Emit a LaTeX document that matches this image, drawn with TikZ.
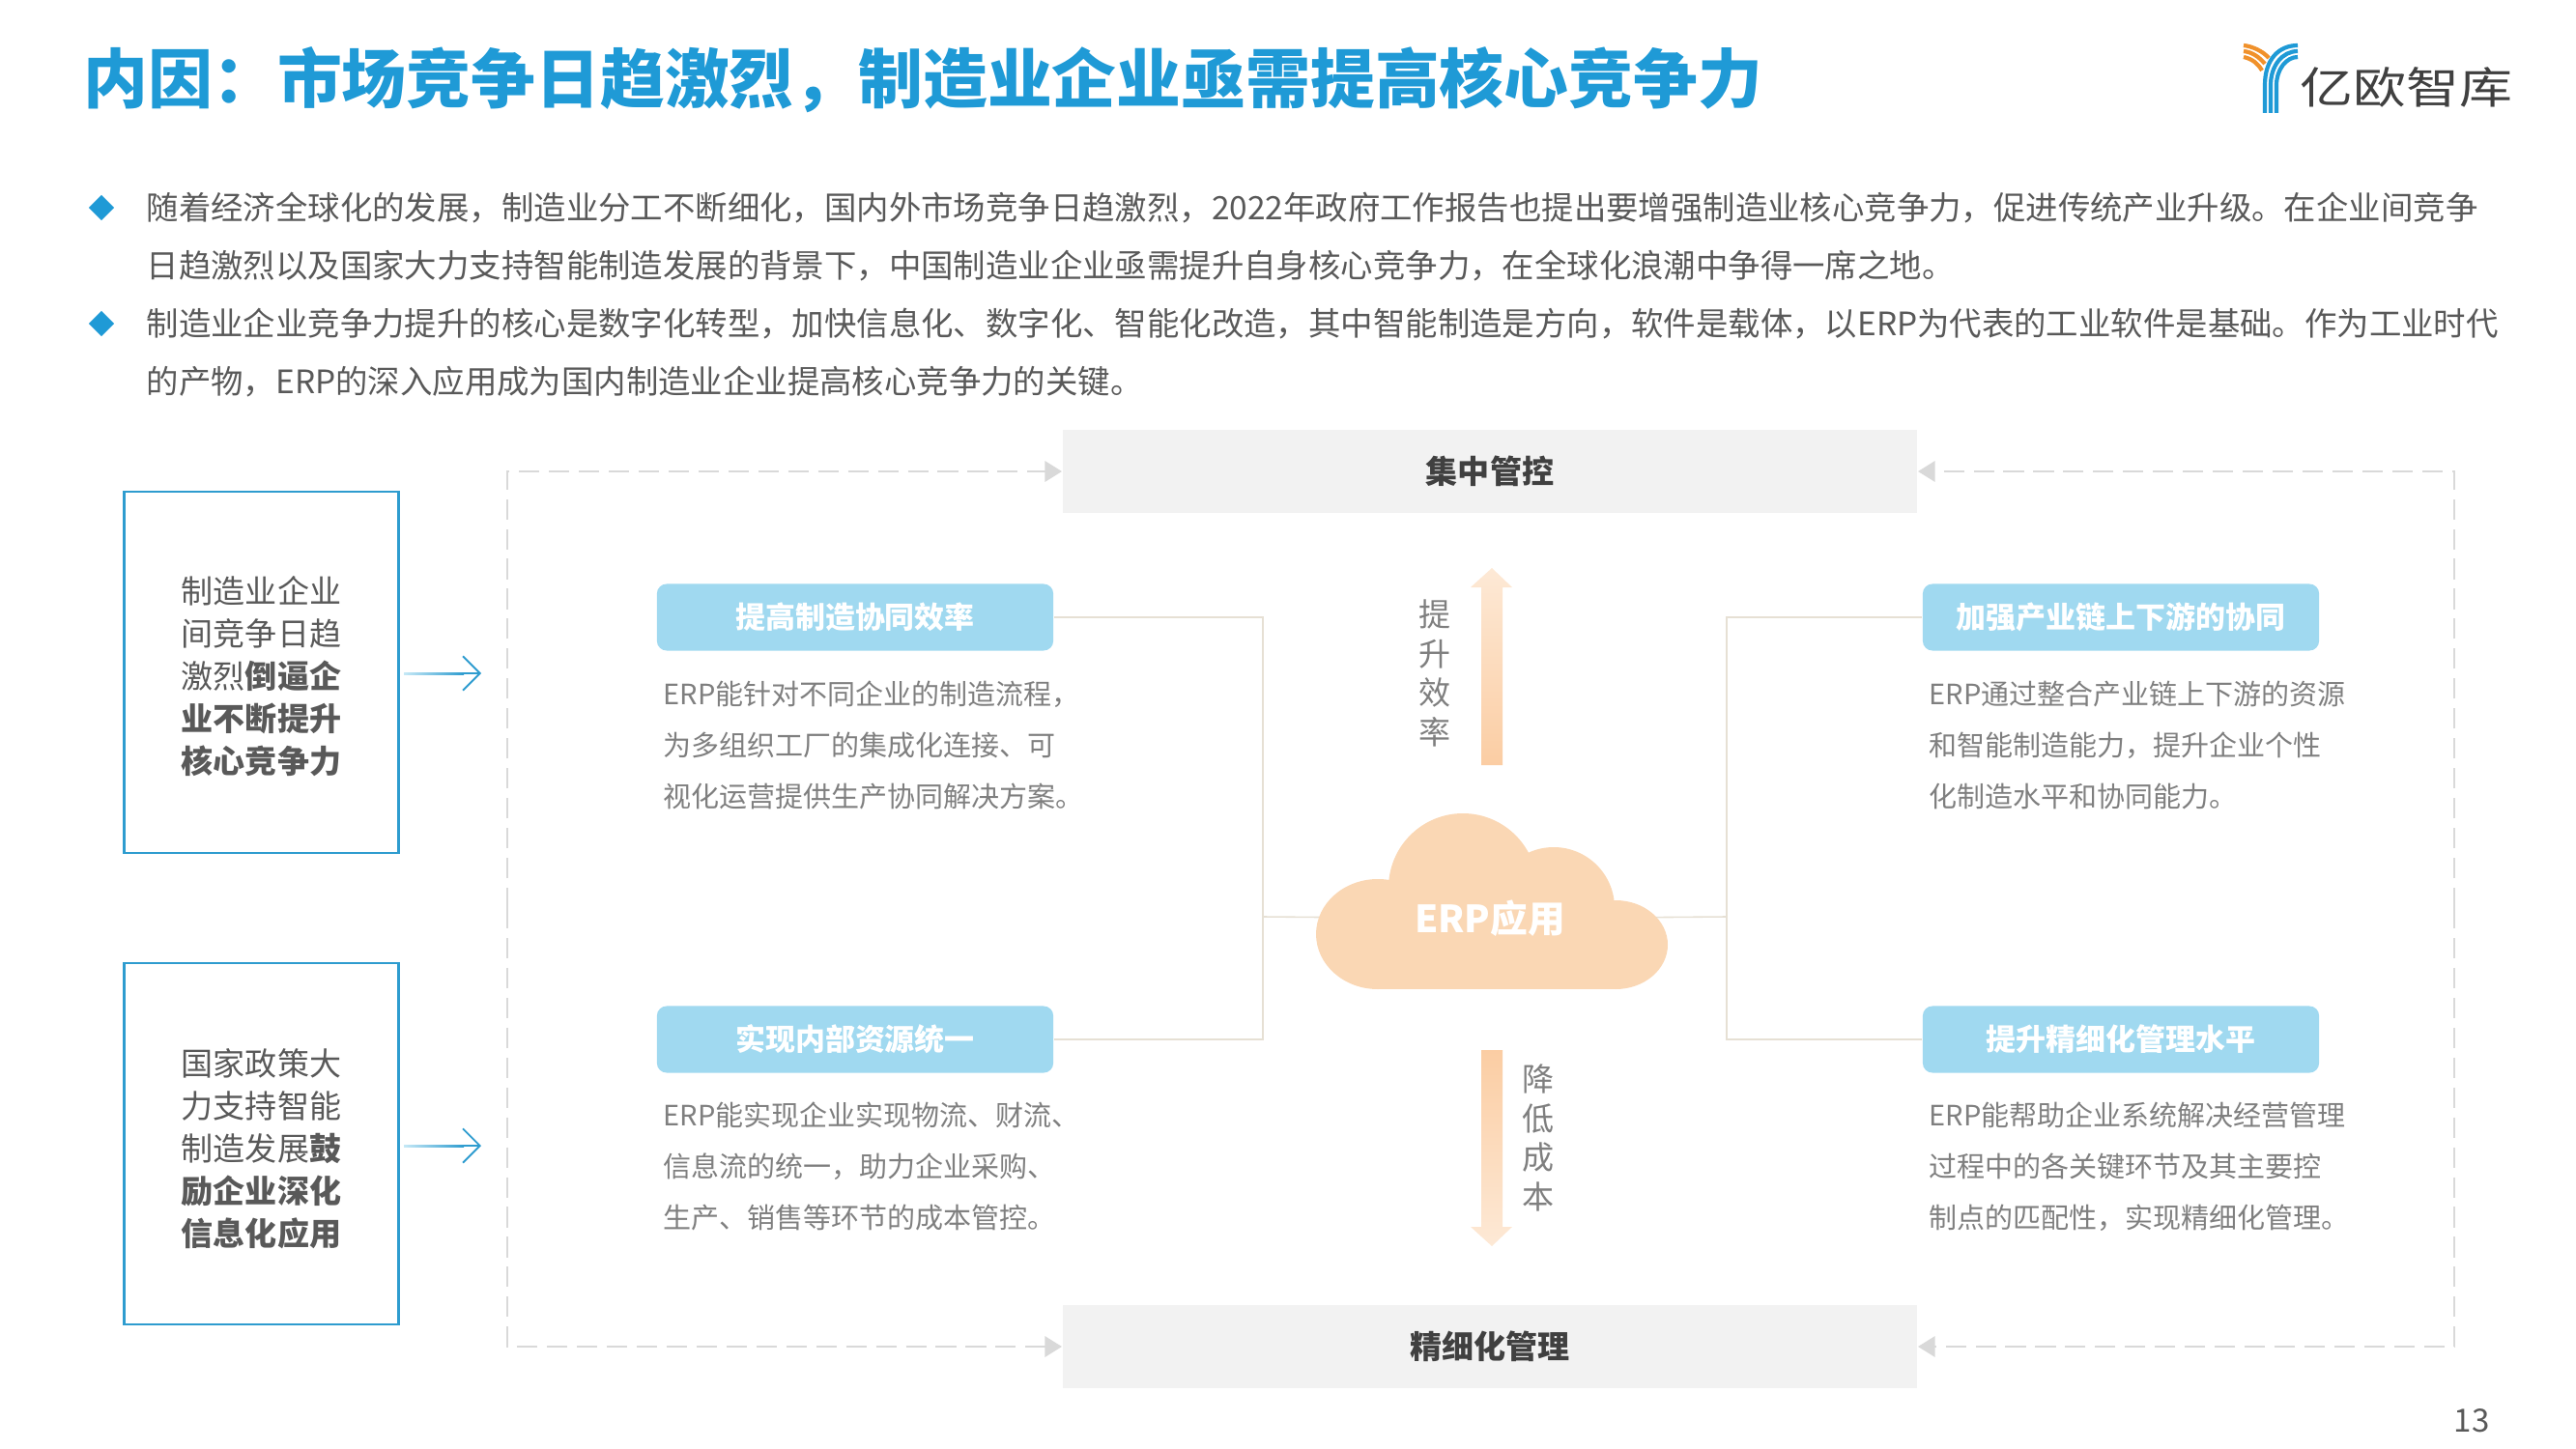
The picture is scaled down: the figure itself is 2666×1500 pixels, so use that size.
\documentclass[tikz,border=0pt]{standalone}
\usepackage{fontspec}
\setmainfont{Noto Sans CJK SC}
\usetikzlibrary{arrows.meta,positioning,shapes.geometric}

\definecolor{ebblue}{HTML}{1F9AD6}
\definecolor{ebline}{HTML}{2E9CCF}
\definecolor{ebsky}{HTML}{A0D9F0}
\definecolor{ebgrey}{HTML}{F2F2F2}
\definecolor{ebdash}{HTML}{D9D9D9}
\definecolor{ebtext}{HTML}{595959}
\definecolor{ebsoft}{HTML}{7F7F7F}
\definecolor{ebdark}{HTML}{404040}
\definecolor{ebpeach}{HTML}{FAD7B4}
\definecolor{ebpale}{HTML}{FDE9D6}
\definecolor{ebdeep}{HTML}{FBCDA3}
\definecolor{ebthin}{HTML}{E6E0D4}
\definecolor{eborange}{HTML}{F0912B}

\tikzset{
  para/.style={anchor=west,align=left,inner sep=0pt,text=ebtext,
    font=\fontsize{9.5}{17.07}\selectfont},
  bullet/.style={fill=ebblue,minimum size=0.27cm,inner sep=0pt,
    shape=diamond},
  causebox/.style={draw=ebline,line width=0.7pt,minimum width=2.84cm,minimum height=3.74cm,
    inner sep=0pt},
  causetext/.style={inner sep=0pt,align=center,text=ebtext,font=\fontsize{9.4}{12.5}\selectfont},
  greybar/.style={fill=ebgrey,minimum width=8.84cm,minimum height=0.86cm,inner sep=0pt,
    text=ebdark,font=\bfseries\fontsize{9.4}{12}\selectfont},
  skybox/.style={fill=ebsky,rounded corners=0.1cm,minimum width=4.1cm,minimum height=0.69cm,
    inner sep=0pt,text=white,font=\bfseries\fontsize{8.8}{12}\selectfont},
  desc/.style={anchor=north west,align=left,inner sep=0pt,text=ebsoft,
    font=\fontsize{8.25}{15.06}\selectfont},
  vtext/.style={align=center,inner sep=0pt,text=ebsoft,
    font=\fontsize{9.4}{11.5}\selectfont},
  dashline/.style={draw=ebdash,line width=0.8pt,dash pattern=on 6pt off 2.8pt,
    -{Triangle[length=5pt,width=6pt,fill=ebdash]}},
  thinline/.style={draw=ebthin,line width=0.45pt},
  pointer/.style={draw=ebline,line width=0.55pt,-{Straight Barb[length=5pt,width=10pt]}},
  logoline/.style={line width=1.2pt},
}

\begin{document}
\begin{tikzpicture}[x=0.01cm,y=-0.01cm,node distance=0.46cm]
  \useasboundingbox (0,0) rectangle (2666,1500);

  % heading
  \node[anchor=west,inner sep=0pt,text=ebblue,font=\bfseries\fontsize{19}{21}\selectfont]
    (heading) at (86,83) {内因：市场竞争日趋激烈，制造业企业亟需提高核心竞争力};

  % logo
  \draw[logoline,ebblue] (2344,117) -- (2344,88) .. controls (2344,62) and (2358,47) .. (2378,47);
  \draw[logoline,ebblue] (2350,117) -- (2350,88) .. controls (2350,68) and (2362,53) .. (2378,53);
  \draw[logoline,ebblue] (2356,117) -- (2356,88) .. controls (2356,72) and (2366,59) .. (2378,59);
  \draw[logoline,eborange] (2322,47) .. controls (2331,48) and (2342,53) .. (2348,60);
  \draw[logoline,eborange] (2322,53) .. controls (2331,54) and (2338,59) .. (2344,66);
  \draw[logoline,eborange] (2322,59) .. controls (2331,61) and (2337,66) .. (2341,73);
  \node[anchor=west,inner sep=0pt,text=ebdark,xscale=1.22,transform shape,
    font=\fontsize{12.8}{14}\selectfont] (logotext) at (2380,90) {亿欧智库};

  % intro
  \node[bullet] (dot1) at (105,215) {};
  \node[bullet] (dot2) at (105,335) {};
  \node[para] (para1) at (151,245) {随着经济全球化的发展，制造业分工不断细化，国内外市场竞争日趋激烈，2022年政府工作报告也提出要增强制造业核心竞争力，促进传统产业升级。在企业间竞争\\
    日趋激烈以及国家大力支持智能制造发展的背景下，中国制造业企业亟需提升自身核心竞争力，在全球化浪潮中争得一席之地。};
  \node[para] (para2) at (151,365) {制造业企业竞争力提升的核心是数字化转型，加快信息化、数字化、智能化改造，其中智能制造是方向，软件是载体，以ERP为代表的工业软件是基础。作为工业时代\\
    的产物，ERP的深入应用成为国内制造业企业提高核心竞争力的关键。};

  % left side
  \node[causebox] (cause1) at (270.5,696) {};
  \node[causebox] (cause2) at (270.5,1184) {};
  \node[causetext] (text1) at ([yshift=-0.04cm]cause1.center) {制造业企业\\间竞争日趋\\激烈\textbf{倒逼企}\\\textbf{业不断提升}\\\textbf{核心竞争力}};
  \node[causetext] (text2) at ([yshift=-0.05cm]cause2.center) {国家政策大\\力支持智能\\制造发展\textbf{鼓}\\\textbf{励企业深化}\\\textbf{信息化应用}};
  \coordinate (tip1) at (498,697);
  \coordinate (tip2) at (498,1186);
  \draw[pointer,shorten <=0.05cm] (cause1.east |- tip1) -- (tip1);
  \draw[pointer,shorten <=0.05cm] (cause2.east |- tip2) -- (tip2);
  \shade[left color=ebsky!60,right color=ebline] (418,696) rectangle (480,698);
  \shade[left color=ebsky!60,right color=ebline] (418,1185) rectangle (480,1187);

  % bars and dashed frame
  \node[greybar] (topbar) at (1542,488) {集中管控};
  \node[greybar] (botbar) at (1542,1394) {精细化管理};
  \coordinate (frameL) at (525,940);
  \coordinate (frameR) at (2540,940);
  \draw[dashline] (frameL) |- (topbar.west);
  \draw[dashline] (frameL) |- (botbar.west);
  \draw[dashline] (frameR) |- (topbar.east);
  \draw[dashline] (frameR) |- (botbar.east);

  % benefit cards
  \node[skybox] (card1) at (885,639) {提高制造协同效率};
  \node[skybox] (card2) at (885,1076) {实现内部资源统一};
  \node[skybox] (card3) at (2195,639) {加强产业链上下游的协同};
  \node[skybox] (card4) at (2195,1076) {提升精细化管理水平};
  \node[desc] (desc1) at (686,704) {ERP能针对不同企业的制造流程，\\为多组织工厂的集成化连接、可\\视化运营提供生产协同解决方案。};
  \node[desc] (desc2) at (686,1140) {ERP能实现企业实现物流、财流、\\信息流的统一，助力企业采购、\\生产、销售等环节的成本管控。};
  \node[desc] (desc3) at (1996,704) {ERP通过整合产业链上下游的资源\\和智能制造能力，提升企业个性\\化制造水平和协同能力。};
  \node[desc] (desc4) at (1996,1140) {ERP能帮助企业系统解决经营管理\\过程中的各关键环节及其主要控\\制点的匹配性，实现精细化管理。};

  % cloud
  \coordinate (joinL) at (1307,949);
  \coordinate (joinR) at (1787,949);
  \node[inner sep=0pt,font=\bfseries\fontsize{11}{13}\selectfont] (erp) at (1542,951) {\phantom{ERP应用}};
  \draw[thinline] (card1.east) -| (joinL);
  \draw[thinline] (card2.east) -| (joinL);
  \draw[thinline] (card3.west) -| (joinR);
  \draw[thinline] (card4.west) -| (joinR);
  \draw[thinline] (joinL) -- (erp);
  \draw[thinline] (joinR) -- (erp);
  \fill[ebpeach] (1426,967) ellipse [x radius=64,y radius=57];
  \fill[ebpeach] (1514,919) circle [radius=77];
  \fill[ebpeach] (1608,940) circle [radius=63];
  \fill[ebpeach] (1672,978) ellipse [x radius=54,y radius=46];
  \fill[ebpeach] (1426,950) rectangle (1675,1024);
  \node[inner sep=0pt,text=white,font=\bfseries\fontsize{11}{13}\selectfont] (erplabel) at (erp) {ERP应用};

  % vertical arrows
  \shade[top color=ebpale,bottom color=ebdeep] (1544,588) -- (1565,608) -- (1555,608) -- (1555,792)
    -- (1533,792) -- (1533,608) -- (1522,608) -- cycle;
  \shade[top color=ebdeep,bottom color=ebpale] (1544,1290) -- (1565,1270) -- (1555,1270) -- (1555,1087)
    -- (1533,1087) -- (1533,1270) -- (1522,1270) -- cycle;
  \node[vtext] (up) at (1485,697) {提\\升\\效\\率};
  \node[vtext] (down) at (1592,1178) {降\\低\\成\\本};

  \node[inner sep=0pt,text=ebtext,font=\fontsize{9.4}{11}\selectfont] (pageno) at (2558,1471) {13};
\end{tikzpicture}
\end{document}
